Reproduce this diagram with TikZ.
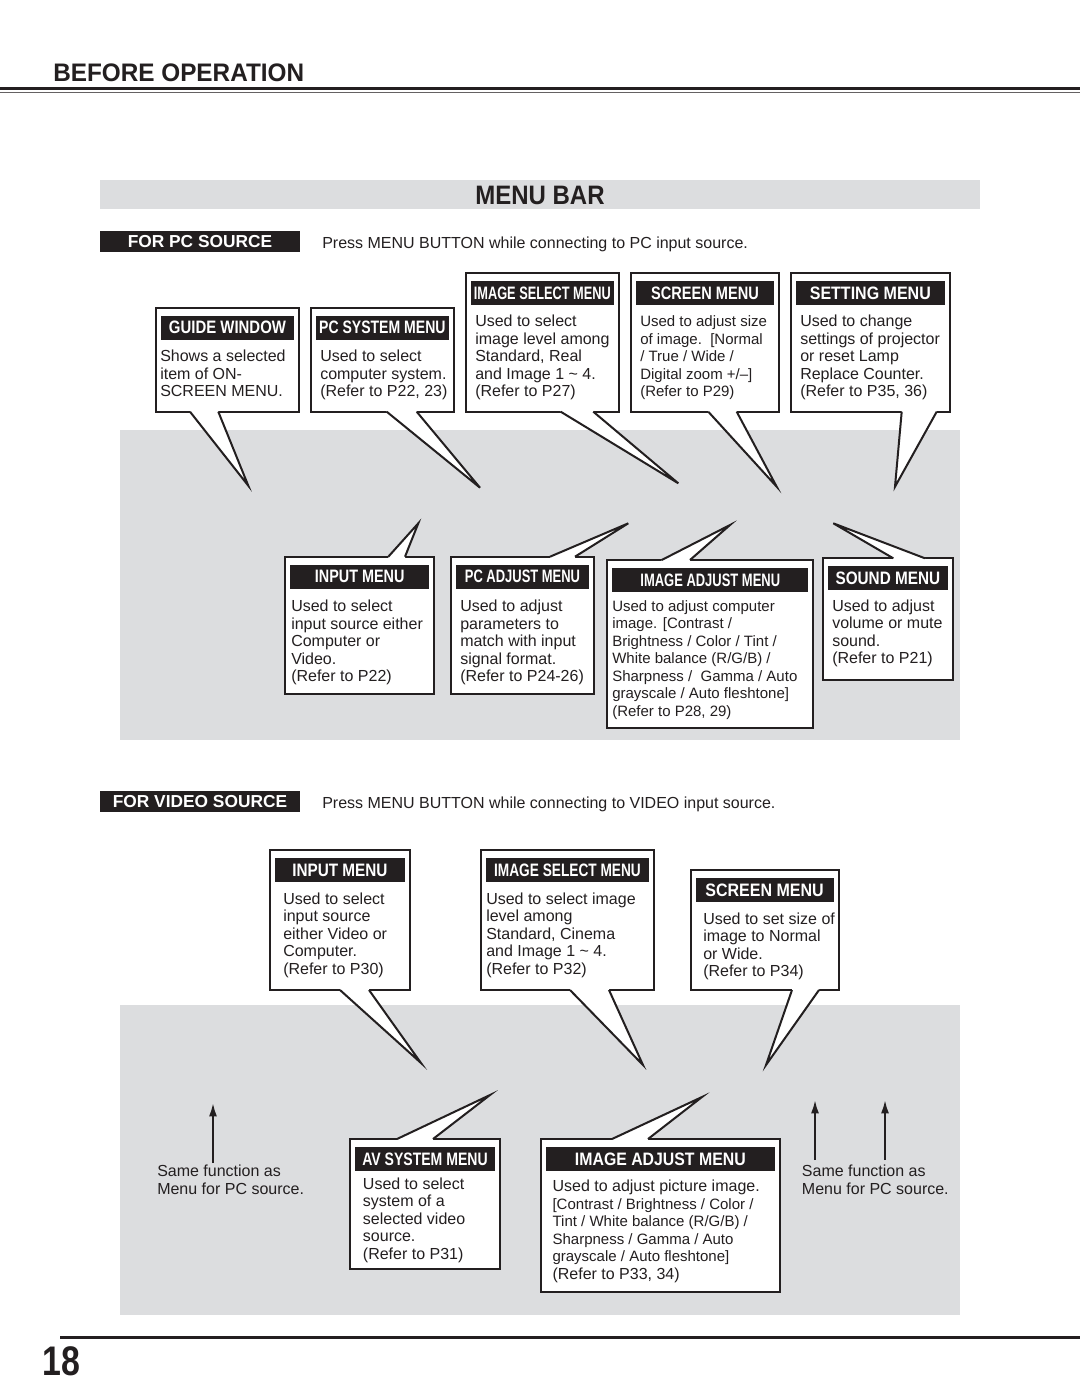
\documentclass[tikz,border=0pt]{standalone}
\usepackage{fontspec}
\setmainfont{Liberation Sans}
\usetikzlibrary{fit,arrows.meta}
\definecolor{tx}{RGB}{35,31,32}
\definecolor{pg}{RGB}{220,221,223}
\newcommand\hdsz{\fontsize{13.5}{15}\selectfont\bfseries}
\newcommand\bsz{\fontsize{12}{13.125}\selectfont}
\newcommand\ssz{\fontsize{11.25}{13.125}\selectfont}
\tikzset{
 mbox/.style={draw=tx, fill=white, line width=1.5pt, inner sep=0pt},
 mhead/.style={fill=tx, inner sep=0pt},
 mheadtext/.style={text=white, inner sep=0pt, font=\hdsz, anchor=center},
 mbody/.style={inner sep=0pt, align=left, text=tx, font=\bsz, anchor=north west},
 tailline/.style={draw=tx, line width=1.5pt, line join=miter},
 srcbar/.style={fill=tx, inner sep=0pt},
 srctext/.style={text=white, inner sep=0pt, anchor=center, font=\fontsize{13}{15}\selectfont\bfseries},
 plain/.style={inner sep=0pt, text=tx, font=\bsz},
 arr/.style={draw=tx, line width=1.5pt, -{Latex[length=10pt,width=6pt]}},
}
% box with black header bar
\newcommand\menubx[7]{%
  \node[mbox, fit={(#2,#3) (#4,#5)}] (#1) {};
  \node[mhead, fit={(#2+5,#3+8) (#4-5,#3+32)}] (#1-h) {};
  \node[mheadtext] (#1-ht) at (#1-h.center) {\scalebox{#6}[1]{#7}};
}
% body text: name, x, first baseline, text
\newcommand\bodytx[5][\bsz]{%
  \node[mbody, font=#1] (#2) at (#3,#4-13.333) {\rule{0pt}{10pt}#5};
}
% callout tail: name, x1, x2, y edge, y inside, tip x, tip y
\newcommand\tailpt[7]{%
  \coordinate (#1-tip) at (#6,#7);
  \coordinate (#1-a) at (#2,#4);
  \coordinate (#1-b) at (#3,#4);
  \fill[white] (#2,#5) -- (#1-a) -- (#1-tip) -- (#1-b) -- (#3,#5) -- cycle;
  \draw[tailline] (#1-a) -- (#1-tip) -- (#1-b);
}
\begin{document}
\begin{tikzpicture}[x=0.75pt,y=-0.75pt]
\useasboundingbox (0,0) rectangle (1080,1397);
\fill[white] (0,0) rectangle (1080,1397);

% page header
\node[anchor=base west, inner sep=0pt, text=tx, font=\fontsize{19}{22}\selectfont\bfseries] (ttl) at (53,81) {\scalebox{0.96}[1]{BEFORE OPERATION}};
\fill[tx] (0,86.5) rectangle (1080,90);
\fill[tx!70] (0,92) rectangle (1080,93.3);

% menu bar band
\node[fill=pg, inner sep=0pt, fit={(100,180) (980,209)}] (mb) {};
\node[anchor=base, inner sep=0pt, text=tx, font=\fontsize{20}{22}\selectfont\bfseries] (mbt) at (540,204.5) {\scalebox{0.9}[1]{MENU BAR}};

% PC source
\node[srcbar, fit={(100,231) (300,252)}] (pcsrc) {};
\node[srctext] (pcsrc-t) at (pcsrc.center) {FOR PC SOURCE};
\node[plain, anchor=base west] (pcpress) at (322,248) {Press MENU BUTTON while connecting to PC input source.};

% gray areas
\fill[pg] (120,430) rectangle (960,740);
\fill[pg] (120,1005) rectangle (960,1315);

% ---- PC upper row
\menubx{gw}{155.7}{307.7}{299.3}{411.7}{0.83}{GUIDE WINDOW}
\bodytx{gw-t}{160}{361.5}{Shows a selected\\item of ON-\\SCREEN MENU.}
\tailpt{gw}{190}{218.3}{411.7}{408}{248.3}{485.7}

\menubx{pcs}{310.7}{307.7}{454}{411.7}{0.78}{PC SYSTEM MENU}
\bodytx{pcs-t}{320}{361.5}{Used to select\\computer system.\\(Refer to P22, 23)}
\tailpt{pcs}{386.7}{416.7}{411.7}{408}{480}{487.7}

\menubx{isl}{465.7}{273.3}{619}{411.7}{0.71}{IMAGE SELECT MENU}
\bodytx{isl-t}{475}{326.5}{Used to select\\image level among\\Standard, Real\\and Image 1 \textasciitilde{} 4.\\(Refer to P27)}
\tailpt{isl}{560.7}{593.3}{411.7}{408}{678.3}{483.3}

\menubx{scr}{630.7}{273.3}{779.3}{411.7}{0.81}{SCREEN MENU}
\bodytx[\ssz]{scr-t}{640}{326.5}{Used to adjust size\\of image.\ \ [Normal\\/ True / Wide /\\Digital zoom +/--]\\(Refer to P29)}
\tailpt{scr}{708.3}{736.7}{411.7}{408}{776.7}{486.7}

\menubx{stg}{790.7}{273.3}{950}{411.7}{0.89}{SETTING MENU}
\bodytx{stg-t}{800}{326.5}{Used to change\\settings of projector\\or reset Lamp\\Replace Counter.\\(Refer to P35, 36)}
\tailpt{stg}{901.7}{936.7}{411.7}{408}{895}{486.7}

% ---- PC lower row
\menubx{inp}{285}{556.7}{434.3}{694}{0.80}{INPUT MENU}
\bodytx{inp-t}{291}{611.5}{Used to select\\input source either\\Computer or\\Video.\\(Refer to P22)}
\tailpt{inp}{388.3}{405}{556.7}{560.5}{418.3}{523.3}

\menubx{pca}{450.7}{556.7}{594.3}{694}{0.72}{PC ADJUST MENU}
\bodytx{pca-t}{460}{611.5}{Used to adjust\\parameters to\\match with input\\signal format.\\(Refer to P24-26)}
\tailpt{pca}{550}{575}{556.7}{560.5}{628.3}{523.3}

\menubx{iad}{607.3}{560}{813.3}{728.3}{0.72}{IMAGE ADJUST MENU}
\bodytx[\ssz]{iad-t}{612}{611}{Used to adjust computer\\image. [Contrast /\\Brightness / Color / Tint /\\White balance (R/G/B) /\\Sharpness /\ \ Gamma / Auto\\grayscale / Auto fleshtone]\\(Refer to P28, 29)}
\tailpt{iad}{661.7}{690}{560}{563.8}{730}{525}

\menubx{snd}{822.7}{558.3}{953}{680}{0.85}{SOUND MENU}
\bodytx{snd-t}{832}{611}{Used to adjust\\volume or mute\\sound.\\(Refer to P21)}
\tailpt{snd}{893.3}{925}{558.3}{562}{833.3}{523.3}

% Video source
\node[srcbar, fit={(100,790.5) (300,812)}] (vsrc) {};
\node[srctext] (vsrc-t) at (vsrc.center) {FOR VIDEO SOURCE};
\node[plain, anchor=base west] (vpress) at (322,808) {Press MENU BUTTON while connecting to VIDEO input source.};

% ---- Video upper row
\menubx{vin}{270.3}{850}{409.5}{990}{0.85}{INPUT MENU}
\bodytx{vin-t}{283}{904}{Used to select\\input source\\either Video or\\Computer.\\(Refer to P30)}
\tailpt{vin}{340}{369}{990}{986.3}{421}{1063}

\menubx{vis}{480.8}{850}{654.2}{990}{0.76}{IMAGE SELECT MENU}
\bodytx{vis-t}{486}{904}{Used to select image\\level among\\Standard, Cinema\\and Image 1 \textasciitilde{} 4.\\(Refer to P32)}
\tailpt{vis}{570}{609}{990}{986.3}{643}{1065}

\menubx{vsc}{690.5}{870}{838.6}{990}{0.89}{SCREEN MENU}
\bodytx{vsc-t}{703}{924}{Used to set size of\\image to Normal\\or Wide.\\(Refer to P34)}
\tailpt{vsc}{792}{819}{990}{986.3}{766}{1065}

% ---- Video lower row
\menubx{avs}{350}{1139}{500}{1269}{0.78}{AV SYSTEM MENU}
\bodytx{avs-t}{362.7}{1189}{Used to select\\system of a\\selected video\\source.\\(Refer to P31)}
\tailpt{avs}{397}{433}{1139}{1142.8}{490}{1095}

\menubx{via}{540.7}{1139}{780}{1292}{0.88}{IMAGE ADJUST MENU}
\bodytx{via-t}{552.3}{1191.5}{Used to adjust picture image.\\\ssz [Contrast / Brightness / Color /\\\ssz Tint / White balance (R/G/B) /\\\ssz Sharpness / Gamma / Auto\\\ssz grayscale / Auto fleshtone]\\(Refer to P33, 34)}
\tailpt{via}{612}{648}{1139}{1142.8}{702}{1097}

% same-function notes and arrows
\node[mbody] (sfl) at (157,1176.5-13.333) {\rule{0pt}{10pt}Same function as\\Menu for PC source.};
\node[mbody] (sfr) at (801.7,1176.5-13.333) {\rule{0pt}{10pt}Same function as\\Menu for PC source.};
\coordinate (al0) at (213,1163); \coordinate (al1) at (213,1103);
\coordinate (ar0) at (815,1160); \coordinate (ar1) at (815,1100);
\coordinate (aq0) at (885,1160); \coordinate (aq1) at (885,1100);
\draw[arr] (al0) -- (al1);
\draw[arr] (ar0) -- (ar1);
\draw[arr] (aq0) -- (aq1);

% footer
\fill[tx] (60,1336) rectangle (1080,1338.5);
\node[anchor=base west, inner sep=0pt, text=tx, font=\fontsize{31}{34}\selectfont\bfseries] (pgno) at (42,1375) {\scalebox{0.82}[1]{18}};
\end{tikzpicture}
\end{document}
